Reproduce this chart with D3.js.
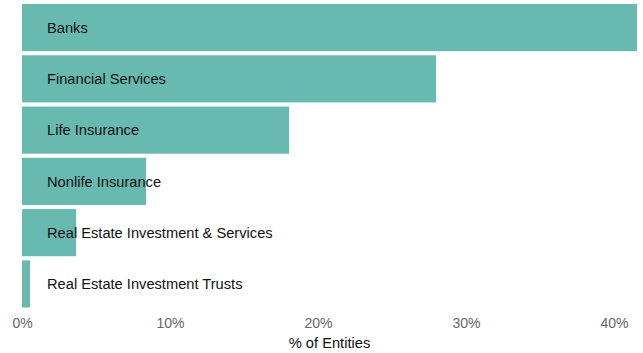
<!DOCTYPE html>
<html>
<head>
<meta charset="utf-8">
<script src="https://cdn.jsdelivr.net/npm/d3@7"></script>
<style>
  html, body { margin: 0; padding: 0; background: #fff; }
  svg { display: block; font-family: "Liberation Sans", Arial, sans-serif; }
</style>
</head>
<body>
<svg id="chart" width="643" height="353"></svg>
<script>
// Share of entities by sector
const sectors = [
  "Banks",
  "Financial Services",
  "Life Insurance",
  "Nonlife Insurance",
  "Real Estate Investment & Services",
  "Real Estate Investment Trusts"
];
const shares = [41.55, 27.97, 18.04, 8.38, 3.65, 0.54];
const tickValues = [0, 10, 20, 30, 40];

const svg = d3.select("#chart");
const plot = { left: 22, right: 637, top: 4, bottom: 307.5 };

const x = d3.scaleLinear().domain([0, d3.max(shares)]).range([plot.left, plot.right]);
const y = d3.scaleBand().domain(sectors).range([plot.top, plot.bottom]).paddingInner(0.08).paddingOuter(0);

const rows = sectors.map((s, i) => ({ sector: s, value: shares[i] }));

svg.append("g").selectAll("rect").data(rows).join("rect")
  .attr("x", x(0))
  .attr("y", d => y(d.sector))
  .attr("width", d => x(d.value) - x(0))
  .attr("height", y.bandwidth())
  .attr("fill", "#68bab0");

svg.append("g").selectAll("text").data(rows).join("text")
  .attr("x", 47)
  .attr("y", d => y(d.sector) + y.bandwidth() / 2)
  .attr("dy", "0.35em")
  .attr("font-size", 14.67)
  .attr("fill", "#111")
  .text(d => d.sector);

const axis = d3.axisBottom(x)
  .tickValues(tickValues)
  .tickFormat(d => d + "%")
  .tickSize(0)
  .tickPadding(0);

const ax = svg.append("g").attr("transform", "translate(0,318)").call(axis);
ax.select(".domain").remove();
ax.selectAll("text")
  .attr("font-size", 14)
  .attr("font-family", "Liberation Sans, Arial, sans-serif")
  .attr("fill", "#666")
  .attr("dy", "0.71em");

svg.append("text")
  .attr("x", (plot.left + plot.right) / 2)
  .attr("y", 348)
  .attr("text-anchor", "middle")
  .attr("font-size", 14.67)
  .attr("fill", "#111")
  .text("% of Entities");
</script>
</body>
</html>
